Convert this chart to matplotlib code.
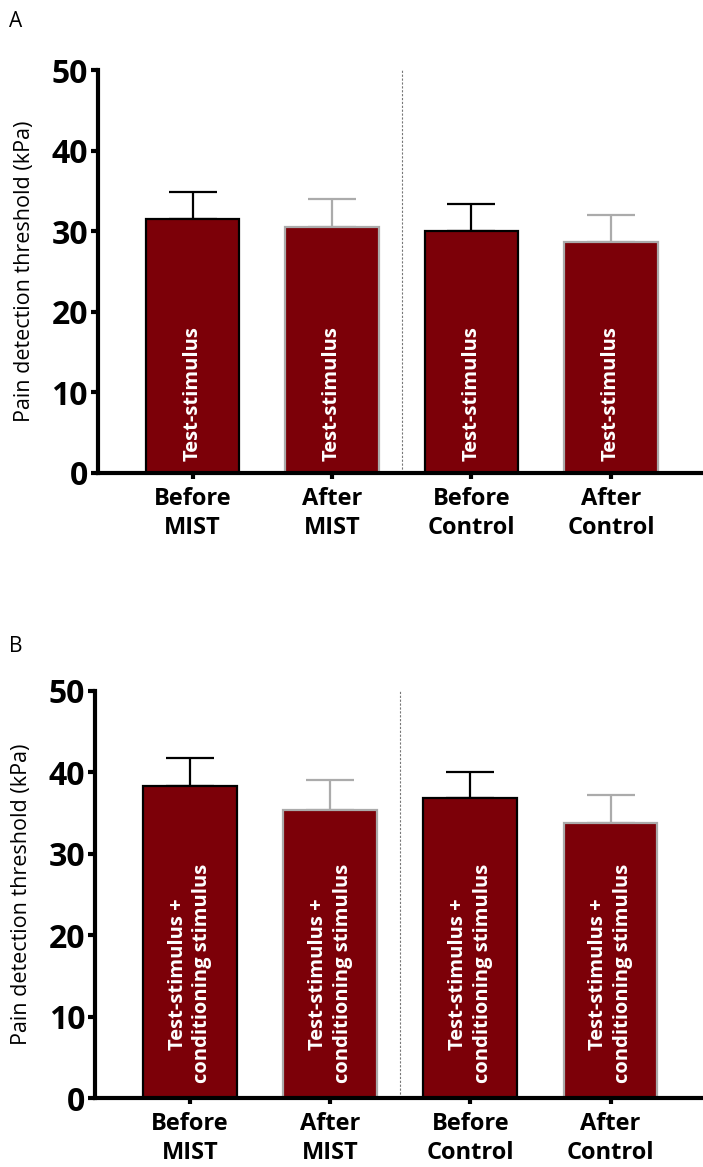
import numpy as np
import matplotlib
matplotlib.use("Agg")
import matplotlib.pyplot as plt

plt.rcParams["font.family"] = ["Open Sans", "DejaVu Sans"]

# ----------------------------------------
# DATA
# ----------------------------------------
groups = ["Before\nMIST", "After\nMIST", "Before\nControl", "After\nControl"]

means_a = [31.5, 30.5, 30.0, 28.7]
errs_a = [3.4, 3.5, 3.4, 3.3]
inbar_a = "Test-stimulus"

means_b = [38.3, 35.4, 36.8, 33.8]
errs_b = [3.4, 3.6, 3.3, 3.4]
inbar_b = "Test-stimulus +\nconditioning stimulus"

y_ticks = [0, 10, 20, 30, 40, 50]

BAR_COLOR = "#7c0008"
EDGE_COLORS = ["black", "#ababab", "black", "#ababab"]


def draw_panel(ax, means, errs, inbar_text, text_y):
    x = np.arange(len(means))
    ax.bar(x, means, width=0.67, color=BAR_COLOR,
           edgecolor=EDGE_COLORS, linewidth=1.6, zorder=2)
    for xi, m, e, ec in zip(x, means, errs, EDGE_COLORS):
        ax.errorbar(xi, m, yerr=[[0], [e]], fmt="none", ecolor=ec,
                    elinewidth=1.6, capsize=17, capthick=1.6, zorder=1)
        ax.text(xi, text_y, inbar_text, rotation=90, ha="center", va="bottom",
                color="white", fontsize=14.5, fontweight="bold",
                linespacing=1.3, zorder=3)

    # separator between MIST and Control
    ax.plot([1.5, 1.5], [0, 50], color="#777777", linewidth=0.8,
            linestyle=(0, (2, 1.5)), zorder=0)

    ax.set_xlim(-0.68, 3.66)
    ax.set_ylim(0, 50)
    ax.set_xticks(x)
    ax.set_xticklabels(groups, fontsize=17, fontweight="bold", linespacing=1.3)
    ax.set_yticks(y_ticks)
    ax.set_yticklabels([str(t) for t in y_ticks], fontsize=23, fontweight="bold")
    ax.set_ylabel("Pain detection threshold (kPa)", fontsize=15.5, labelpad=12)

    for side in ["top", "right"]:
        ax.spines[side].set_visible(False)
    for side in ["left", "bottom"]:
        ax.spines[side].set_linewidth(3)
    ax.tick_params(axis="y", width=3, length=5, pad=2)
    ax.tick_params(axis="x", width=3, length=4, pad=6)


fig = plt.figure(figsize=(7.03, 11.67), dpi=100)

ax_a = fig.add_axes([0.139, 0.595, 0.861, 0.345])
draw_panel(ax_a, means_a, errs_a, inbar_a, 1.4)

ax_b = fig.add_axes([0.135, 0.059, 0.865, 0.349])
draw_panel(ax_b, means_b, errs_b, inbar_b, 1.8)

fig.text(0.013, 0.982, "A", fontsize=15, va="center")
fig.text(0.013, 0.446, "B", fontsize=15, va="center")

fig.savefig("out.png", dpi=100)
